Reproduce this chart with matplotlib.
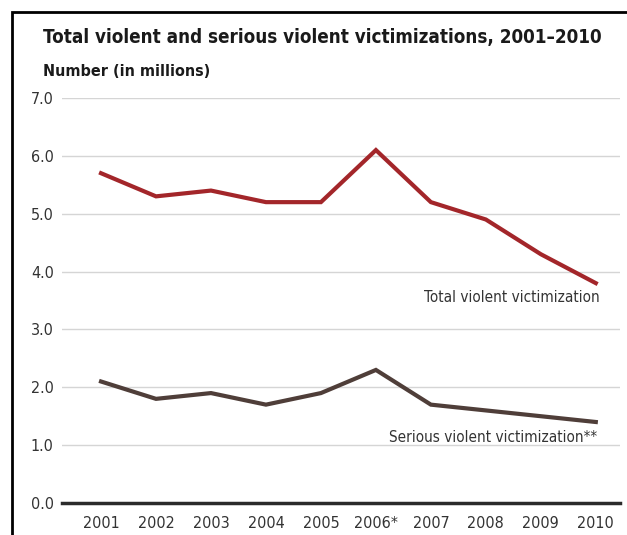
import matplotlib.pyplot as plt
from matplotlib.patches import Rectangle

plt.rcParams['font.family'] = ['DejaVu Sans']
plt.rcParams['font.stretch'] = 'condensed'

years = [2001, 2002, 2003, 2004, 2005, 2006, 2007, 2008, 2009, 2010]
year_labels = ['2001', '2002', '2003', '2004', '2005', '2006*', '2007', '2008', '2009', '2010']
total_violent = [5.7, 5.3, 5.4, 5.2, 5.2, 6.1, 5.2, 4.9, 4.3, 3.8]
serious_violent = [2.1, 1.8, 1.9, 1.7, 1.9, 2.3, 1.7, 1.6, 1.5, 1.4]
y_ticks = [0, 1, 2, 3, 4, 5, 6, 7]

W, H = 627, 535
fig = plt.figure(figsize=(W / 100, H / 100), dpi=100)
ax = fig.add_axes([62 / W, 32 / H, (620 - 62) / W, (503 - 98) / H])

# black frame around the figure (cut off on right and bottom)
fig.patches.append(Rectangle((12 / W, -0.05), 1.0, (H - 12) / H + 0.05, transform=fig.transFigure,
                             fill=False, edgecolor='black', linewidth=2))

ax.plot(years, total_violent, color='#a3262a', linewidth=3, solid_joinstyle='miter')
ax.plot(years, serious_violent, color='#4f3e39', linewidth=3, solid_joinstyle='miter')

ax.set_xlim(2000.29, 2010.44)
ax.set_ylim(0, 7)
ax.set_yticks(y_ticks)
ax.set_yticklabels([f'{v:.1f}' for v in y_ticks], fontsize=11.5, color='#333333')
ax.set_xticks(years)
ax.set_xticklabels(year_labels, fontsize=11.5, color='#333333')
ax.tick_params(axis='both', length=0)
ax.tick_params(axis='y', pad=6)
ax.tick_params(axis='x', pad=9)

for v in y_ticks[1:]:
    ax.axhline(v, color='#d5d5d5', linewidth=1, zorder=0)
ax.axhline(0, color='#2b2b2b', linewidth=2.5, clip_on=False)

for s in ax.spines.values():
    s.set_visible(False)

ax.text(2010.07, 3.56, 'Total violent victimization', ha='right', va='center', fontsize=11, color='#333333')
ax.text(2010.02, 1.14, 'Serious violent victimization**', ha='right', va='center', fontsize=11, color='#333333')

fig.text(43 / W, 1 - 38 / H, 'Total violent and serious violent victimizations, 2001\u20132010',
         fontsize=13.5, fontweight='bold', color='#1a1a1a', va='center')
fig.text(43 / W, 1 - 71 / H, 'Number (in millions)', fontsize=11.5, fontweight='bold', color='#1a1a1a', va='center')

fig.savefig('out.png', dpi=100)
